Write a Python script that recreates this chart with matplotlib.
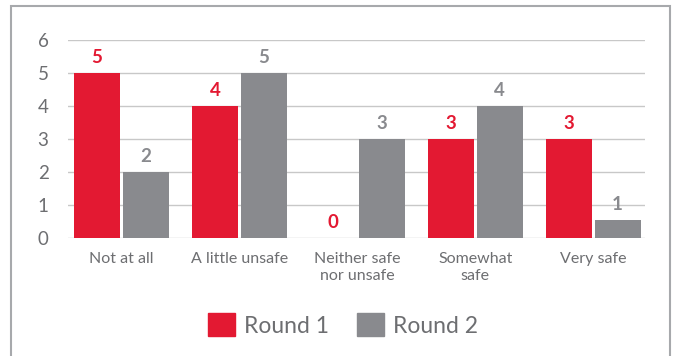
import matplotlib
matplotlib.use("Agg")
import matplotlib.pyplot as plt
from matplotlib.patches import Rectangle, Patch
import numpy as np

categories = ["Not at all", "A little unsafe", "Neither safe\nnor unsafe", "Somewhat\nsafe", "Very safe"]
round1 = [5, 4, 0, 3, 3]
round2 = [2, 5, 3, 4, 0.55]
round1_labels = ["5", "4", "0", "3", "3"]
round2_labels = ["2", "5", "3", "4", "1"]
yticks = [0, 1, 2, 3, 4, 5, 6]

RED = "#E31932"
GRAY = "#898A8E"
TXT = "#6D6E71"
plt.rcParams["font.family"] = ["Lato", "DejaVu Sans"]

fig = plt.figure(figsize=(6.75, 3.56), dpi=100)
fig.patches.append(Rectangle((11/675, -0.05), (670-11)/675, 1 - 6/356 + 0.05,
                             transform=fig.transFigure, fill=False,
                             edgecolor="#A7A9AC", linewidth=1.5))
ax = fig.add_axes([68/675, 1-238/356, (645-68)/675, (238-40)/356])

x = np.arange(len(categories))
w = 0.39
off = 0.208
ax.bar(x - off, round1, w, color=RED, zorder=3)
ax.bar(x + off, round2, w, color=GRAY, zorder=3)
for i in range(len(x)):
    ax.text(x[i] - off, round1[i] + 0.2, round1_labels[i], ha="center", va="bottom",
            color=RED, fontsize=13.5, fontweight="bold")
    ax.text(x[i] + off, round2[i] + 0.2, round2_labels[i], ha="center", va="bottom",
            color=GRAY, fontsize=13.5, fontweight="bold")

ax.set_xlim(-0.455, 4.44)
ax.set_ylim(0, 6)
ax.set_yticks(yticks)
ax.set_yticklabels([str(t) for t in yticks], fontsize=13.5, color=TXT)
ax.set_xticks(x)
ax.set_xticklabels(categories, fontsize=11.5, color=TXT, linespacing=1.3)
ax.tick_params(axis="both", length=0)
ax.tick_params(axis="y", pad=14)
ax.tick_params(axis="x", pad=10)
ax.grid(axis="y", color="#C8C8C8", linewidth=1, zorder=0)
for s in ax.spines.values():
    s.set_visible(False)

handles = [Patch(color=RED, label="Round 1"), Patch(color=GRAY, label="Round 2")]
leg = fig.legend(handles=handles, loc="center", bbox_to_anchor=(343/675, 1-325/356),
                 ncol=2, frameon=False, fontsize=16.5, handlelength=1.15, handleheight=1.15,
                 handletextpad=0.4, columnspacing=1.25)
for t in leg.get_texts():
    t.set_color(TXT)

fig.savefig("out.png", dpi=100)
